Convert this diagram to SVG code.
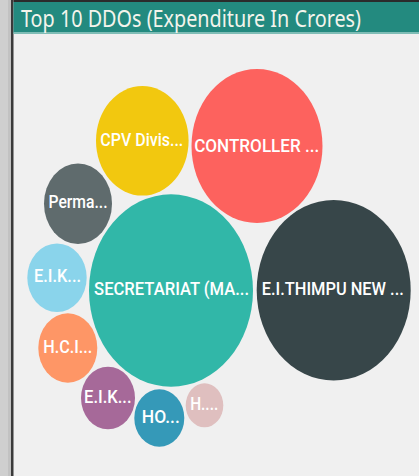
<svg xmlns="http://www.w3.org/2000/svg" width="419" height="476" viewBox="0 0 419 476">
<style>
.lbl{font-family:Roboto,"Liberation Sans",sans-serif;font-size:17.5px;fill:#ffffff;text-anchor:middle;font-weight:500}
.title{font-family:"Noto Sans","Open Sans","Liberation Sans",sans-serif;font-size:23px;fill:#f4f4ec}
</style>
<rect x="0" y="0" width="419" height="476" fill="#f0f0f0"/>
<rect x="0" y="0" width="11" height="476" fill="#cfcfcf"/>
<rect x="8" y="0" width="3" height="476" fill="#c2c2c2"/>
<rect x="11" y="0" width="2.5" height="476" fill="#3a3a3a"/>
<rect x="13.5" y="0" width="405.5" height="2" fill="#2b2b2b"/>
<rect x="13.5" y="2" width="405.5" height="31" fill="#238a7f"/>
<rect x="13.5" y="32" width="405.5" height="2" fill="#7fbdb6"/>
<text class="title" x="21" y="27" textLength="340" lengthAdjust="spacingAndGlyphs">Top 10 DDOs (Expenditure In Crores)</text>
<g id="connectors"></g>
<g id="controller"><ellipse cx="257" cy="146" rx="65.5" ry="77" fill="#fd625e"/><text class="lbl" x="256.7" y="151.5" textLength="125" lengthAdjust="spacingAndGlyphs">CONTROLLER ...</text></g>
<g id="eithimpu"><ellipse cx="333.7" cy="290.3" rx="77" ry="90.3" fill="#374649"/><text class="lbl" x="332.8" y="295" textLength="142" lengthAdjust="spacingAndGlyphs">E.I.THIMPU NEW ...</text></g>
<g id="secretariat"><ellipse cx="171" cy="290.5" rx="82" ry="96.2" fill="#31b7a8"/><text class="lbl" x="171.6" y="295" textLength="155" lengthAdjust="spacingAndGlyphs">SECRETARIAT (MA...</text></g>
<g id="cpv"><ellipse cx="142.3" cy="140.8" rx="46.3" ry="54.8" fill="#f2c80f"/><text class="lbl" x="141.8" y="146" textLength="83" lengthAdjust="spacingAndGlyphs">CPV Divis...</text></g>
<g id="perma"><ellipse cx="78" cy="203.7" rx="34" ry="40.3" fill="#5f6b6d"/><text class="lbl" x="78" y="208.3" textLength="59" lengthAdjust="spacingAndGlyphs">Perma...</text></g>
<g id="eik1"><ellipse cx="57" cy="277.7" rx="29.7" ry="34.3" fill="#8ad4eb"/><text class="lbl" x="57.5" y="281.7" textLength="47" lengthAdjust="spacingAndGlyphs">E.I.K...</text></g>
<g id="hci"><ellipse cx="67.8" cy="348" rx="29.5" ry="34.7" fill="#fe9666"/><text class="lbl" x="67.8" y="353.3" textLength="49" lengthAdjust="spacingAndGlyphs">H.C.I...</text></g>
<g id="eik2"><ellipse cx="108" cy="398" rx="27" ry="31.3" fill="#a66999"/><text class="lbl" x="107.8" y="403.3" textLength="47.5" lengthAdjust="spacingAndGlyphs">E.I.K...</text></g>
<g id="ho"><ellipse cx="159.3" cy="418" rx="25" ry="28.7" fill="#3599b8"/><text class="lbl" x="160.8" y="422.7" textLength="38" lengthAdjust="spacingAndGlyphs">HO...</text></g>
<g id="h"><ellipse cx="204.5" cy="405.3" rx="18.8" ry="22" fill="#dfbfbf"/><text class="lbl" x="204.2" y="410" textLength="28" lengthAdjust="spacingAndGlyphs">H....</text></g>
</svg>
